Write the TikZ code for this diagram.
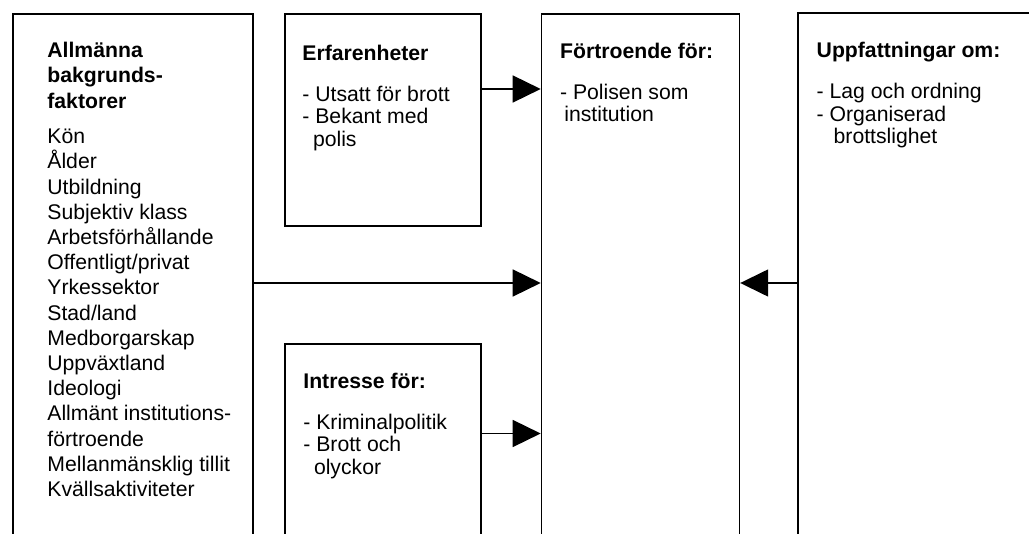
\documentclass[tikz,border=0pt]{standalone}
\usepackage{fontspec}
\setmainfont{Liberation Sans}
\usepackage{tikz}
\usetikzlibrary{positioning,arrows.meta}

\begin{document}
\begin{tikzpicture}[x=0.5pt, y=-0.5pt,
        ruta/.style={draw, line width=0.75pt, anchor=north west, inner sep=0pt},
        txt/.style={anchor=north west, inner sep=0pt, align=left, font=\fontsize{10.6}{11.3}\selectfont},
        pil/.style={-{Triangle[length=14pt, width=13.5pt]}, line width=0.75pt}]
        \useasboundingbox (0,0) rectangle (1029,534);
        \clip (0,0) rectangle (1029,534);
        \node[ruta, minimum width=120pt, minimum height=300pt] (bakgr) at (12,13.3) {};
        \node[ruta, minimum width=98pt, minimum height=106pt] (erf) at (284,13.3) {};
        \node[ruta, minimum width=98pt, minimum height=150pt] (intr) at (284,343.3) {};
        \node[ruta, minimum width=99pt, minimum height=300pt] (fort) at (540.7,13.3) {};
        \node[ruta, minimum width=200pt, minimum height=300pt] (uppf) at (797.3,12.3) {};
        \node[txt, font=\fontsize{10.6}{12.6}\selectfont, below right=14pt and 17.5pt of bakgr.north west] (bakgr-text) {%
            \textbf{Allmänna}\\[0.3pt]\textbf{bakgrunds-}\\[0.3pt]\textbf{faktorer}\\[4.9pt]
            Kön\\Ålder\\Utbildning\\Subjektiv klass\\Arbetsförhållande\\Offentligt/privat\\
            Yrkessektor\\Stad/land\\Medborgarskap\\Uppväxtland\\Ideologi\\
            Allmänt institutions-\\förtroende\\Mellanmänsklig tillit\\Kvällsaktiviteter};
        \node[txt, below right=15.6pt and 9pt of erf.north west] (erf-text) {%
            \textbf{Erfarenheter}\\[9.2pt]
            - Utsatt för brott\\- Bekant med\\\hspace*{0.5em}polis};
        \node[txt, below right=14.5pt and 9.5pt of intr.north west] (intr-text) {%
            \textbf{Intresse för:}\\[9.2pt]
            - Kriminalpolitik\\- Brott och\\\hspace*{0.5em}olyckor};
        \node[txt, below right=14.5pt and 9.5pt of fort.north west] (fort-text) {%
            \textbf{Förtroende för:}\\[9.2pt]
            - Polisen som\\\hspace*{0.2em}institution};
        \node[txt, below right=14.8pt and 9.5pt of uppf.north west] (uppf-text) {%
            \textbf{Uppfattningar om:}\\[9.2pt]
            - Lag och ordning\\- Organiserad\\\hspace*{0.8em}brottslighet};
        \coordinate (h1) at (0,89);
        \coordinate (h2) at (0,283);
        \coordinate (h3) at (0,433.5);
        \draw[pil] (erf.east |- h1) -- (fort.west |- h1);
        \draw[pil] (bakgr.east |- h2) -- (fort.west |- h2);
        \draw[pil] (uppf.west |- h2) -- (fort.east |- h2);
        \draw[pil] (intr.east |- h3) -- (fort.west |- h3);
    \end{tikzpicture}
\end{document}
